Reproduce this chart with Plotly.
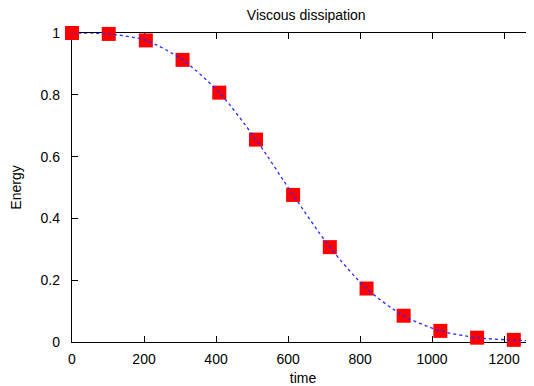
import plotly.graph_objects as go

# Data
times = [0, 102, 205, 307, 409, 511, 614, 716, 818, 921, 1023, 1125, 1227]
energy = [1.0, 0.997, 0.976, 0.913, 0.807, 0.655, 0.476, 0.307, 0.173, 0.085, 0.036, 0.014, 0.007]

line_t = [0, 102, 205, 307, 409, 511, 614, 716, 818, 921, 1023, 1125, 1227, 1285]
line_e = [1.0, 0.997, 0.976, 0.913, 0.807, 0.655, 0.476, 0.307, 0.173, 0.085, 0.036, 0.014, 0.006, 0.004]

x_ticks = [0, 200, 400, 600, 800, 1000, 1200]
y_ticks = [0, 0.2, 0.4, 0.6, 0.8, 1]
y_tick_labels = ["0", "0.2", "0.4", "0.6", "0.8", "1"]

font = "Liberation Sans, Arial, sans-serif"
fs = 14

fig = go.Figure()
fig.add_trace(go.Scatter(
    x=times, y=energy, mode="markers",
    marker=dict(symbol="square", size=14, color="#ff0000", line=dict(width=0)),
    cliponaxis=False, showlegend=False,
))
fig.add_trace(go.Scatter(
    x=line_t, y=line_e, mode="lines",
    line=dict(color="rgb(40,40,255)", width=1.3, dash="dot", shape="spline", smoothing=0.8),
    cliponaxis=False, showlegend=False,
))

axis_common = dict(
    showline=True, linecolor="black", linewidth=1.3, mirror="ticks",
    ticks="inside", ticklen=6, tickcolor="black", tickwidth=1,
    showgrid=False, zeroline=False,
    tickfont=dict(family=font, size=fs, color="black"),
    layer="below traces",
)

# page body has an 8px margin, so the figure is sized/offset to compensate
fig.update_layout(
    width=526, height=378,
    margin=dict(l=64, r=0, t=25, b=44),
    paper_bgcolor="white", plot_bgcolor="white",
    title=dict(text="Viscous dissipation", x=0.567, xanchor="center", y=1.0, yanchor="top",
               pad=dict(t=2, b=0), font=dict(family=font, size=fs, color="black")),
    xaxis=dict(range=[0, 1283], tickvals=x_ticks, ticklabelstandoff=4,
               title=dict(text="time", font=dict(family=font, size=fs, color="black"), standoff=9),
               **axis_common),
    yaxis=dict(range=[0, 1], tickvals=y_ticks, ticktext=y_tick_labels, ticklabelstandoff=8,
               title=dict(text="Energy", font=dict(family=font, size=fs, color="black"), standoff=22),
               **axis_common),
)

fig.write_html("out.html")
